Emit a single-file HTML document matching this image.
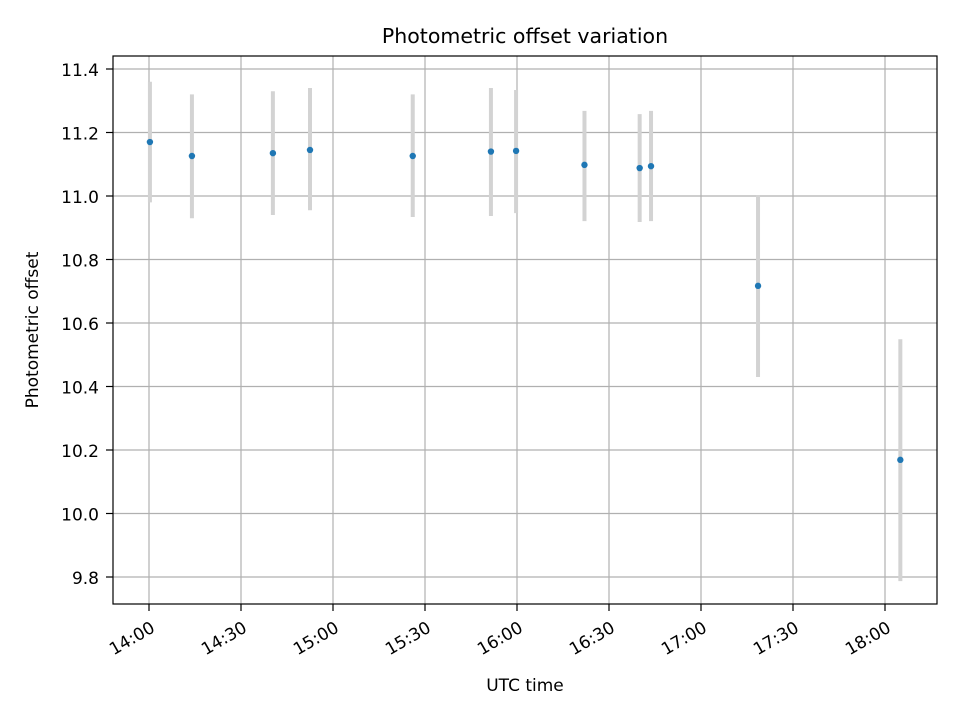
<!DOCTYPE html>
<html><head><meta charset="utf-8"><style>
body{margin:0;background:#fff;}
svg{display:block;font-family:"DejaVu Sans","Liberation Sans",sans-serif;}
</style></head><body>
<svg id="chart" width="960" height="720"></svg>
<script>
const times = ["14:00.3","14:14","14:40.4","14:52.5","15:26","15:51.5","15:59.7","16:22","16:40","16:43.7","17:18.6","18:05"];
const values = [11.17,11.126,11.135,11.145,11.126,11.14,11.142,11.098,11.088,11.094,10.717,10.169];
const upper = [11.36,11.32,11.33,11.34,11.32,11.34,11.334,11.268,11.258,11.268,11.003,10.549];
const lower = [10.98,10.93,10.94,10.955,10.934,10.937,10.946,10.921,10.918,10.921,10.43,9.787];
const yTicks = [9.8,10.0,10.2,10.4,10.6,10.8,11.0,11.2,11.4];
const xTickLabels = ["14:00","14:30","15:00","15:30","16:00","16:30","17:00","17:30","18:00"];

const NS="http://www.w3.org/2000/svg";
const svg=document.getElementById('chart');
const L=113,R=937,T=56,B=604;
function toMin(s){const [h,m]=s.split(':');return (+h)*60+parseFloat(m);}
function xs(min){return 149+(min-840)*(92/30);}
function ys(v){return 577-(v-9.8)*(508/1.6);}
function mk(tag,attrs,name,parent){const e=document.createElementNS(NS,tag);for(const k in attrs)e.setAttribute(k,attrs[k]);


(parent||svg).appendChild(e);return e;}
mk('rect',{x:L,y:T,width:R-L,height:B-T,fill:'#fff'},'plot-area');
yTicks.forEach(v=>{const y=ys(v);
mk('line',{x1:L,x2:R,y1:y,y2:y,stroke:'#b0b0b0','stroke-width':1.2},'y-grid-line');
mk('line',{x1:L-7,x2:L,y1:y,y2:y,stroke:'#000','stroke-width':1.2},'y-tick');
const t=mk('text',{x:L-14,y:y+7,'text-anchor':'end','font-size':17},'y-tick-label');t.textContent=v.toFixed(1);});
xTickLabels.forEach(s=>{const x=xs(toMin(s));
mk('line',{x1:x,x2:x,y1:T,y2:B,stroke:'#b0b0b0','stroke-width':1.2},'x-grid-line');
mk('line',{x1:x,x2:x,y1:B,y2:B+7,stroke:'#000','stroke-width':1.2},'x-tick');
const ax=x+7, ay=B+27;
const t=mk('text',{x:ax,y:ay,'text-anchor':'end','font-size':17,transform:`rotate(-30 ${ax} ${ay})`},'x-tick-label');t.textContent=s;});
times.forEach((s,i)=>{const x=xs(toMin(s));
mk('line',{x1:x,x2:x,y1:ys(upper[i]),y2:ys(lower[i]),stroke:'#d3d3d3','stroke-width':4},'error-bar');});
times.forEach((s,i)=>{mk('circle',{cx:xs(toMin(s)),cy:ys(values[i]),r:3.2,fill:'#1f77b4'},'data-point');});
mk('rect',{x:L,y:T,width:R-L,height:B-T,fill:'none',stroke:'#000','stroke-width':1.2},'plot-frame');
let t=mk('text',{x:525,y:43,'text-anchor':'middle','font-size':20.5},'chart-title');t.textContent='Photometric offset variation';
t=mk('text',{x:525,y:691,'text-anchor':'middle','font-size':17},'x-axis-title');t.textContent='UTC time';
t=mk('text',{x:38,y:330,'text-anchor':'middle','font-size':17,transform:'rotate(-90 38 330)'},'y-axis-title');t.textContent='Photometric offset';
</script>
</body></html>
